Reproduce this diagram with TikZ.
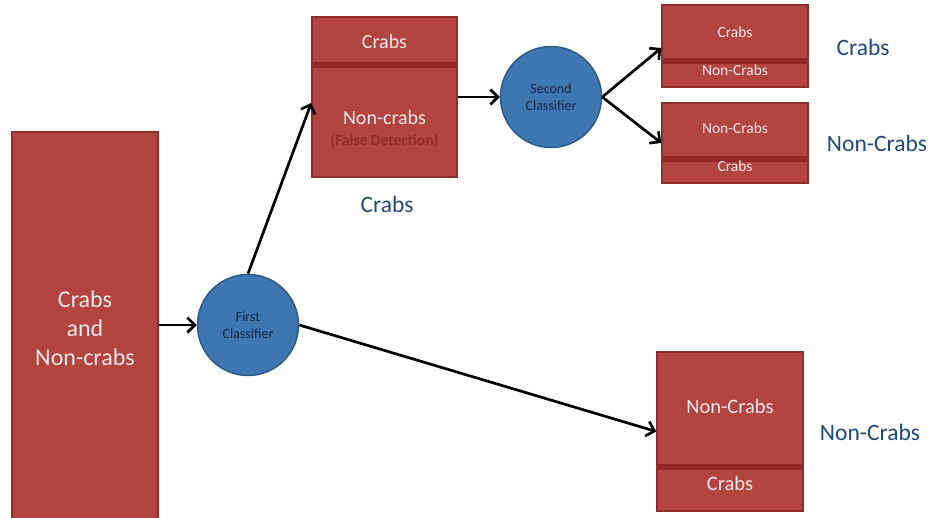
\documentclass[tikz,border=0pt]{standalone}
\usepackage{fontspec}
\setmainfont{Carlito}
\usetikzlibrary{arrows.meta,calc}
\definecolor{boxred}{HTML}{B4443F}
\definecolor{boxedge}{HTML}{8E2F2C}
\definecolor{bandred}{HTML}{952826}
\definecolor{txtwhite}{HTML}{F6E9E8}
\definecolor{fdred}{HTML}{922E2B}
\definecolor{circfill}{HTML}{3F77B2}
\definecolor{circedge}{HTML}{2D5A88}
\definecolor{circtxt}{HTML}{172B4A}
\definecolor{lblblue}{HTML}{1F497D}
\tikzset{
  redbox/.style={rectangle, draw=boxedge, fill=boxred, line width=1.5pt, inner sep=0pt},
  band/.style={fill=bandred},
  classifier/.style={circle, draw=circedge, fill=circfill, line width=1.5pt, inner sep=0pt,
    minimum size=101pt, text=circtxt, align=center, font=\fontsize{14}{17}\selectfont},
  wtxt/.style={text=txtwhite, inner sep=0pt, align=center},
  lbl/.style={text=lblblue, inner sep=0pt, font=\fontsize{23.5}{28}\selectfont},
  conn/.style={line width=2.7pt, -{Straight Barb[length=7.5pt,width=15pt,line width=2.7pt]}}
}
\begin{document}
\begin{tikzpicture}[x=1pt,y=-1pt]
\useasboundingbox (0,0) rectangle (932,517);
\clip (0,0) rectangle (932,517);
% left box
\node[redbox, minimum width=146pt, minimum height=400pt] (lb) at (85,332) {};
\node[wtxt, font=\fontsize{24}{29}\selectfont] (lbt) at (85,328) {Crabs\\and\\Non-crabs};
% classifiers
\node[classifier] (fc) at (248,325) {First\\Classifier};
\node[classifier] (sc) at (551,97) {Second\\Classifier};
% top middle box
\node[redbox, minimum width=145pt, minimum height=160pt] (tb) at (384.5,97) {};
\fill[band] (313,62) rectangle (456,67.5);
\node[wtxt, font=\fontsize{20}{24}\selectfont] (tbc) at (384.5,42) {Crabs};
\node[wtxt, font=\fontsize{20}{24}\selectfont] (tbn) at (384.5,118) {Non-crabs};
\node[text=fdred, inner sep=0pt, font=\fontsize{15.5}{18}\selectfont\bfseries] (tbf) at (384.5,141) {(False Detection)};
\node[lbl] (lcrabs1) at (387,204) {Crabs};
% top right boxes
\node[redbox, minimum width=146pt, minimum height=82pt] (tr1) at (735,46) {};
\fill[band] (663,58) rectangle (807,64);
\node[wtxt, font=\fontsize{15.5}{18}\selectfont] (tr1a) at (735,32) {Crabs};
\node[wtxt, font=\fontsize{15.5}{18}\selectfont] (tr1b) at (735,70) {Non-Crabs};
\node[lbl] (lcrabs2) at (863,47) {Crabs};
\node[redbox, minimum width=146pt, minimum height=80pt] (tr2) at (735,143) {};
\fill[band] (663,156) rectangle (807,162);
\node[wtxt, font=\fontsize{15.5}{18}\selectfont] (tr2a) at (735,128) {Non-Crabs};
\node[wtxt, font=\fontsize{15.5}{18}\selectfont] (tr2b) at (735,166) {Crabs};
\node[lbl] (lnon1) at (877,143) {Non-Crabs};
% bottom right box
\node[redbox, minimum width=146pt, minimum height=159pt] (br) at (730,431.5) {};
\fill[band] (658,464) rectangle (802,469.5);
\node[wtxt, font=\fontsize{20.5}{24}\selectfont] (bra) at (730,406) {Non-Crabs};
\node[wtxt, font=\fontsize{20.5}{24}\selectfont] (brb) at (730,483) {Crabs};
\node[lbl] (lnon2) at (870,432) {Non-Crabs};
% connectors
\draw[conn] (fc.west -| lb.east) -- (fc.west);
\draw[conn] (fc.north) -- ($(tb.west)+(0,6)$);
\draw[conn] (fc.east) -- (br.west);
\draw[conn] (tb.east) -- (sc.west);
\draw[conn] (sc.east) -- ($(tr1.west)+(0,2)$);
\draw[conn] (sc.east) -- (tr2.west);
\end{tikzpicture}
\end{document}
